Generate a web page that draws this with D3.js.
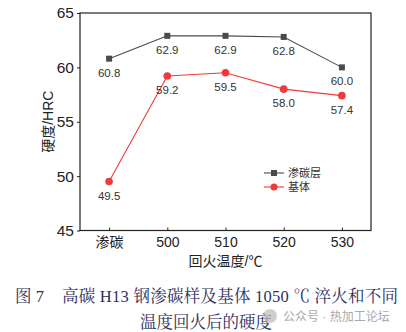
<!DOCTYPE html>
<html><head><meta charset="utf-8">
<script src="https://cdn.jsdelivr.net/npm/d3@7"></script>
<style>body{margin:0;background:#fff;}svg{display:block;}</style>
</head><body>
<svg id="c" width="406" height="332"></svg>
<script>
const categories = ["渗碳", "500", "510", "520", "530"];
const carburized = [60.8, 62.9, 62.9, 62.8, 60.0];
const matrix = [49.5, 59.2, 59.5, 58.0, 57.4];
const yTicks = [45, 50, 55, 60, 65];
const seriesNames = ["渗碳层", "基体"];

const svg = d3.select("#c");
const L = 80, R = 371, T = 13, B = 230.5;
const x = d3.scalePoint().domain(categories).range([L, R]).padding(0.5);
const y = d3.scaleLinear().domain([45, 65]).range([B, T]);
const sans = "Liberation Sans, Arial, Noto Sans CJK SC, sans-serif";

svg.append("rect").attr("x", L).attr("y", T).attr("width", R - L).attr("height", B - T)
  .attr("fill", "none").attr("stroke", "#222").attr("stroke-width", 1.2);

const ya = svg.append("g").attr("transform", `translate(${L},0)`)
  .call(d3.axisLeft(y).tickValues(yTicks).tickSize(3).tickPadding(3));
ya.select(".domain").remove();
ya.selectAll("line").attr("stroke", "#222");
ya.selectAll("text").attr("font-family", sans).attr("font-size", 15.5).attr("fill", "#222");

const xa = svg.append("g").attr("transform", `translate(0,${B})`)
  .call(d3.axisBottom(x).tickSize(-3).tickPadding(5));
xa.select(".domain").remove();
xa.selectAll("line").attr("stroke", "#222");
xa.selectAll("text").attr("font-family", sans).attr("font-size", 14).attr("fill", "#222").attr("dy", "0.8em");

svg.append("text").attr("x", (L + R) / 2).attr("y", 266).attr("text-anchor", "middle")
  .attr("font-family", sans).attr("font-size", 14).attr("fill", "#222").text("回火温度/℃");
svg.append("text").attr("transform", `translate(53,${(T + B) / 2}) rotate(-90)`).attr("text-anchor", "middle")
  .attr("font-family", sans).attr("font-size", 14).attr("fill", "#222").text("硬度/HRC");

const gray = "#4a4a4a", red = "#f03a3a";
const line = d3.line().x((d, i) => x(categories[i])).y(d => y(d));
svg.append("path").datum(carburized).attr("d", line).attr("fill", "none").attr("stroke", gray).attr("stroke-width", 1.1);
svg.append("path").datum(matrix).attr("d", line).attr("fill", "none").attr("stroke", red).attr("stroke-width", 1.1);

svg.selectAll(".sq").data(carburized).enter().append("rect")
  .attr("x", (d, i) => x(categories[i]) - 3).attr("y", d => y(d) - 3).attr("width", 6).attr("height", 6).attr("fill", gray);
svg.selectAll(".ci").data(matrix).enter().append("circle")
  .attr("cx", (d, i) => x(categories[i])).attr("cy", d => y(d)).attr("r", 3.8).attr("fill", red);

svg.selectAll(".lc").data(carburized).enter().append("text")
  .attr("x", (d, i) => x(categories[i])).attr("y", d => y(d) + 18).attr("text-anchor", "middle")
  .attr("font-family", sans).attr("font-size", 11.5).attr("fill", "#333").text(d => d.toFixed(1));
svg.selectAll(".lm").data(matrix).enter().append("text")
  .attr("x", (d, i) => x(categories[i])).attr("y", d => y(d) + 18).attr("text-anchor", "middle")
  .attr("font-family", sans).attr("font-size", 11.5).attr("fill", "#333").text(d => d.toFixed(1));

// legend
const lg = svg.append("g");
[[gray, "sq"], [red, "ci"]].forEach(([c, m], i) => {
  const yy = 173 + i * 14;
  lg.append("line").attr("x1", 264).attr("x2", 284).attr("y1", yy).attr("y2", yy).attr("stroke", c).attr("stroke-width", 1.1);
  if (m === "sq") lg.append("rect").attr("x", 271).attr("y", yy - 3).attr("width", 6).attr("height", 6).attr("fill", c);
  else lg.append("circle").attr("cx", 274).attr("cy", yy).attr("r", 3.5).attr("fill", c);
  lg.append("text").attr("x", 288).attr("y", yy + 4).attr("font-family", sans).attr("font-size", 11).attr("fill", "#333").text(seriesNames[i]);
});

// caption
const serif = "Liberation Serif, Noto Serif CJK SC, Noto Sans CJK SC, serif";
const capColor = "#2e2e5e";
svg.append("text").attr("x", 15).attr("y", 302).attr("font-family", serif).attr("font-size", 16.5).attr("fill", capColor)
  .text("图 7");
svg.append("text").attr("x", 62).attr("y", 302).attr("font-family", serif).attr("font-size", 16.5).attr("fill", capColor)
  .attr("textLength", 336).attr("lengthAdjust", "spacing")
  .text("高碳 H13 钢渗碳样及基体 1050 ℃ 淬火和不同");
svg.append("text").attr("x", 140).attr("y", 328).attr("font-family", serif).attr("font-size", 16.5).attr("fill", capColor)
  .text("温度回火后的硬度");
svg.append("circle").attr("cx", 270).attr("cy", 316).attr("r", 7).attr("fill", "#bbb").attr("opacity", 0.7);
svg.append("text").attr("x", 283).attr("y", 321).attr("font-family", sans).attr("font-size", 12).attr("fill", "#aaa")
  .text("公众号 · 热加工论坛");
</script>
</body></html>
